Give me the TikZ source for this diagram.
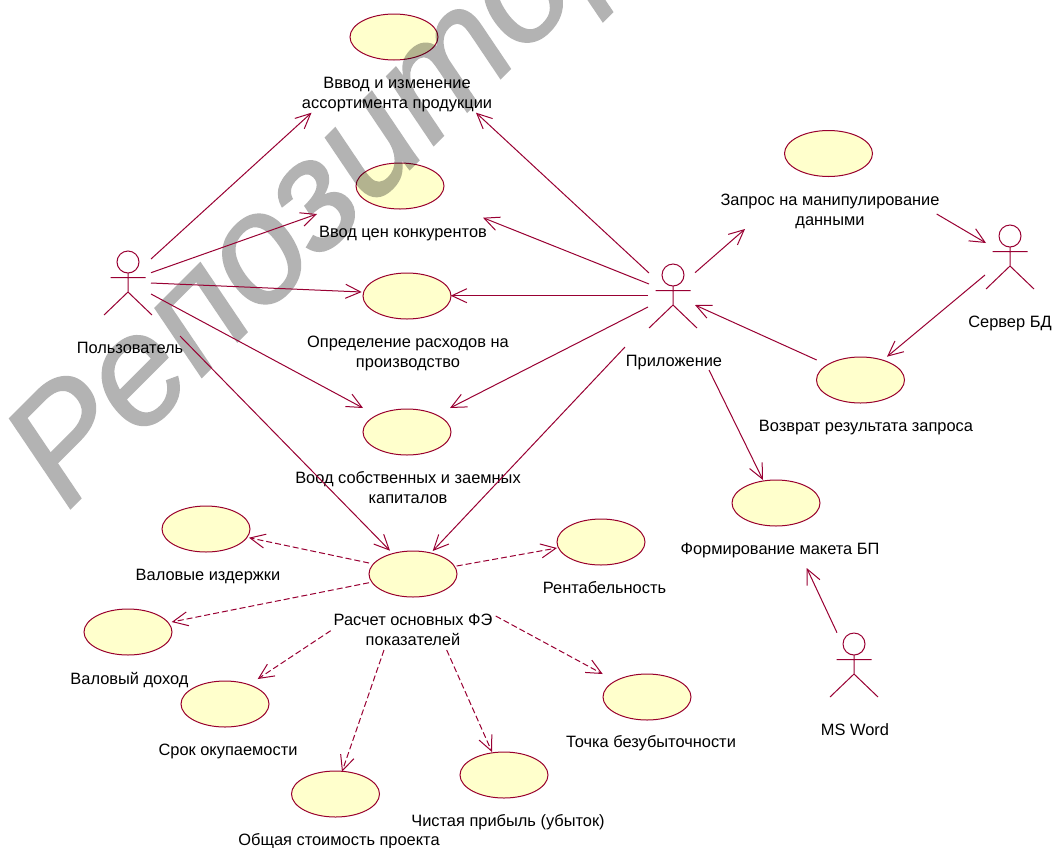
\documentclass[tikz,border=0pt]{standalone}
\usepackage{fontspec}
\setmainfont{Liberation Sans}
\newfontfamily\wmfont[ItalicFont={Liberation Sans Italic},ItalicFeatures={FakeBold=1}]{Liberation Sans}
\usetikzlibrary{arrows.meta,shapes.geometric}
\definecolor{rose}{RGB}{153,0,51}
\definecolor{usefill}{RGB}{255,255,204}
\definecolor{wmgray}{RGB}{179,179,179}
\tikzset{
  usecase/.style={ellipse,draw=rose,fill=usefill,line width=1pt,minimum width=88pt,minimum height=46pt,inner sep=0pt,outer sep=0pt},
  actorhead/.style={circle,draw=rose,line width=1pt,minimum size=22pt,inner sep=0pt,outer sep=0pt},
  actorline/.style={draw=rose,line width=1pt},
  lbl/.style={font=\fontsize{16.4}{20}\selectfont,text=black,align=center,anchor=base,inner sep=0pt,outer sep=0pt},
  assoc/.style={draw=rose,line width=1pt,-{Straight Barb[length=15pt,width=14pt]}},
  dep/.style={assoc,dash pattern=on 6pt off 3pt},
}
\newcommand{\umlactor}[3]{%
  \node[actorhead] (#1) at (#2,#3) {};
  \draw[actorline,shift={(#2,#3)}] (-17.5,15.5) -- (17.5,15.5) (0,11) -- (0,30) (-24,53) -- (0,30) -- (24,53);
}
\newcommand{\umllink}[5]{\draw[#1] ([shift={(#3)}]#2.center) -- ([shift={(#5)}]#4.center);}
\begin{document}
\begin{tikzpicture}[x=1pt,y=-1pt]
\useasboundingbox (0,0) rectangle (1052,847);
\fill[white] (0,0) rectangle (1052,847);
% watermark
\begin{scope}
\clip (0,0) rectangle (1052,847);
\node[anchor=base west,rotate=45,inner sep=0pt,text=wmgray,font=\fontsize{155}{155}\wmfont\itshape\selectfont] (wm) at (67,512) {Репозитор};
\end{scope}
% use cases, tinted by the watermark underneath
\begin{scope}
\pgfsetblendmode{multiply}
\node[usecase] (e1) at (394,37) {};
\node[usecase] (e2) at (400,186) {};
\node[usecase] (e3) at (407,296) {};
\node[usecase] (e4) at (407,432) {};
\node[usecase] (calc) at (413,574) {};
\node[usecase] (zap) at (828.5,153.5) {};
\node[usecase] (voz) at (860.5,380) {};
\node[usecase] (form) at (776,503) {};
\node[usecase] (rent) at (601,542) {};
\node[usecase] (toch) at (647,697) {};
\node[usecase] (chis) at (504,775) {};
\node[usecase] (obsh) at (335.5,794) {};
\node[usecase] (srok) at (225,704) {};
\node[usecase] (doh) at (128,632) {};
\node[usecase] (izd) at (206,529) {};
\end{scope}
% actors
\umlactor{user}{128}{262}
\umlactor{app}{673}{275}
\umlactor{server}{1010}{236}
\umlactor{word}{854}{644}
% labels (base = last line)
\node[lbl] (l1) at (397,108) {Вввод и изменение\\ассортимента продукции};
\node[lbl] (l2) at (403,237) {Ввод цен конкурентов};
\node[lbl] (l3) at (408,367) {Определение расходов на\\производство};
\node[lbl] (l4) at (408,503) {Воод собственных и заемных\\капиталов};
\node[lbl] (l5) at (413,645) {Расчет основных ФЭ\\показателей};
\node[lbl] (l6) at (830,225.5) {Запрос на манипулирование\\данными};
\node[lbl] (l7) at (866,431) {Возврат результата запроса};
\node[lbl] (l8) at (780,554) {Формирование макета БП};
\node[lbl] (l9) at (604.5,593) {Рентабельность};
\node[lbl] (l10) at (651,747) {Точка безубыточности};
\node[lbl] (l11) at (508,826) {Чистая прибыль (убыток)};
\node[lbl] (l12) at (339,845) {Общая стоимость проекта};
\node[lbl] (l13) at (228,755) {Срок окупаемости};
\node[lbl] (l14) at (129.5,684) {Валовый доход};
\node[lbl] (l15) at (208,580) {Валовые издержки};
\node[lbl] (l16) at (130,353) {Пользователь};
\node[lbl] (l17) at (674,366) {Приложение};
\node[lbl] (l18) at (1010,327) {Сервер БД};
\node[lbl] (l19) at (855,735) {MS Word};
% associations
\umllink{assoc}{user}{23,-3}{e1}{-82.5,75.7}
\umllink{assoc}{user}{23,10.7}{e2}{-83,28}
\umllink{assoc}{user}{23,21}{e3}{-45.3,-4}
\umllink{assoc}{user}{23,32}{e4}{-44,-24}
\umllink{assoc}{user}{52,74}{calc}{-23,-23.3}
\umllink{assoc}{app}{-24,-2}{e1}{82,75.7}
\umllink{assoc}{app}{-24,9}{e2}{83,31.7}
\umllink{assoc}{app}{-25,20.7}{e3}{43.7,-0.3}
\umllink{assoc}{app}{-25,32}{e4}{43,-24}
\umllink{assoc}{app}{-48,72}{calc}{19.7,-23}
\umllink{assoc}{app}{22,-2.3}{zap}{-83.5,75.5}
\umllink{assoc}{zap}{108.2,60.5}{server}{-24,7}
\umllink{assoc}{server}{-25,39}{voz}{26.5,-23.3}
\umllink{assoc}{voz}{-43.8,-20}{app}{22,30}
\umllink{assoc}{app}{36,95}{form}{-13,-23}
\umllink{assoc}{word}{-17,-11.3}{form}{30.7,65}
% dependencies
\umllink{dep}{calc}{-44,-11}{izd}{43,8.7}
\umllink{dep}{calc}{-44,8.7}{doh}{43.7,-10}
\umllink{dep}{calc}{43.7,-8}{rent}{-44,6}
\umllink{dep}{calc}{-82.3,56.7}{srok}{32.7,-25}
\umllink{dep}{calc}{-29,76}{obsh}{6.5,-22.3}
\umllink{dep}{calc}{33.7,76}{chis}{-12,-23}
\umllink{dep}{calc}{82.7,42}{toch}{-44.3,-23}
\end{tikzpicture}
\end{document}
